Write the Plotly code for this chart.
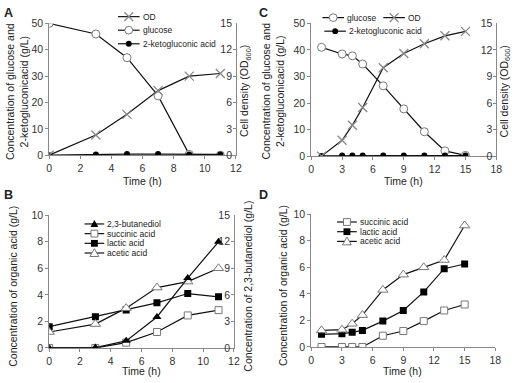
import plotly.graph_objects as go

W, H = 520, 383

# ---------------- data ----------------
# Panel A
tA = [0, 3, 5, 7, 9, 11]
A_od = [0, 2.3, 4.65, 7.35, 9.0, 9.3]
A_glucose = [50, 46, 37, 22.5, 0.3, 0]
A_kga = [0, 0.3, 0.4, 0.4, 0.3, 0.3]

# Panel B
tB = [0, 3, 5, 7, 9, 11]
B_bdo = [0, 0.05, 0.8, 3.5, 7.9, 12.0]
B_succinic = [0, 0, 0.4, 1.2, 2.45, 2.85]
B_lactic = [1.6, 2.35, 2.85, 3.4, 4.1, 3.85]
B_acetic = [1.2, 1.8, 3.0, 4.55, 5.0, 6.0]

# Panel C
tC = [1, 3, 4, 5, 7, 9, 11, 13, 15]
C_glucose = [41, 38.5, 37.8, 34.7, 26.5, 17.8, 9.2, 2.0, 0.3]
C_od = [0, 1.8, 3.5, 5.5, 10.0, 11.6, 12.7, 13.6, 14.1]
C_kga = [0.1, 0.2, 0.2, 0.2, 0.2, 0.2, 0.2, 0.2, 0.2]

# Panel D
tD = [1, 3, 4, 5, 7, 9, 11, 13, 15]
D_succinic = [0, 0, 0, 0, 0.85, 1.2, 1.95, 2.75, 3.2]
D_lactic = [0.95, 1.0, 1.1, 1.25, 1.95, 2.75, 4.15, 5.9, 6.25]
D_acetic = [1.25, 1.3, 1.75, 2.4, 4.3, 5.45, 6.0, 6.55, 9.15]

# ---------------- styles ----------------
FONT = "Liberation Sans, Arial, sans-serif"
TXT = "#222"
AX = "#888"
LINE = dict(color="#111", width=1.2)
OPEN_EDGE = "#777"
TS = 10.5   # axis title size
KS = 10.5   # tick label size
LS = 8.5    # legend text size

STY = {
    "od": dict(symbol="x-thin", size=9, color="#888", line=dict(color="#888", width=1.3)),
    "glucose": dict(symbol="circle", size=8, color="white", line=dict(color=OPEN_EDGE, width=1)),
    "kga": dict(symbol="circle", size=6, color="black", line=dict(color="black", width=0)),
    "bdo": dict(symbol="triangle-up", size=8, color="black", line=dict(color="black", width=0)),
    "succinic": dict(symbol="square", size=7, color="white", line=dict(color=OPEN_EDGE, width=1)),
    "lactic": dict(symbol="square", size=7, color="black", line=dict(color="black", width=0)),
    "acetic": dict(symbol="triangle-up", size=9, color="white", line=dict(color=OPEN_EDGE, width=1)),
}

fig = go.Figure()


def add(x, y, key, xa, ya, name):
    fig.add_trace(go.Scatter(x=x, y=y, mode="lines+markers", name=name,
                             line=LINE, marker=STY[key], xaxis=xa, yaxis=ya,
                             showlegend=False))


# A
add(tA, A_glucose, "glucose", "x", "y", "glucose")
add(tA, A_kga, "kga", "x", "y", "2-ketogluconic acid")
add(tA, A_od, "od", "x", "y2", "OD")
# C
add(tC, C_glucose, "glucose", "x2", "y3", "glucose")
add(tC, C_kga, "kga", "x2", "y3", "2-ketogluconic acid")
add(tC, C_od, "od", "x2", "y4", "OD")
# B
add(tB, B_succinic, "succinic", "x3", "y5", "succinic acid")
add(tB, B_lactic, "lactic", "x3", "y5", "lactic acid")
add(tB, B_acetic, "acetic", "x3", "y5", "acetic acid")
add(tB, B_bdo, "bdo", "x3", "y6", "2,3-butanediol")
# D
add(tD, D_succinic, "succinic", "x4", "y7", "succinic acid")
add(tD, D_lactic, "lactic", "x4", "y7", "lactic acid")
add(tD, D_acetic, "acetic", "x4", "y7", "acetic acid")


def px(x):
    return x / W


def py(y):
    return 1 - y / H


tickfont = dict(family=FONT, size=KS, color="#333")


def xax(dom, rng, dt, anchor):
    return dict(domain=[px(dom[0]), px(dom[1])], range=rng, dtick=dt, anchor=anchor,
                showline=True, linecolor=AX, linewidth=1, ticks="outside", ticklen=3,
                tickcolor=AX, showgrid=False, zeroline=False, tickfont=tickfont)


def yax(dom, rng, dt, anchor):
    return dict(domain=[py(dom[1]), py(dom[0])], range=rng, dtick=dt, anchor=anchor,
                showline=True, linecolor=AX, linewidth=1, ticks="outside", ticklen=3,
                tickcolor=AX, showgrid=False, zeroline=False, tickfont=tickfont)


def yright(over, rng, dt, anchor):
    return dict(overlaying=over, side="right", range=rng, dtick=dt, anchor=anchor,
                showline=True, linecolor=AX, linewidth=1, ticks="inside", ticklen=3,
                tickcolor=AX, ticklabelposition="inside", ticklabeloverflow="allow",
                showgrid=False, zeroline=False, tickfont=tickfont)


layout = dict(
    width=W, height=H, margin=dict(l=0, r=0, t=0, b=0),
    paper_bgcolor="white", plot_bgcolor="white", showlegend=False,
    font=dict(family=FONT, color=TXT),
    xaxis=xax((47, 237), [0, 12], 2, "y"),
    yaxis=yax((18, 154), [0, 50], 10, "x"),
    yaxis2=yright("y", [0, 15], 3, "x"),
    xaxis2=xax((313.7, 502), [0, 18], 3, "y3"),
    yaxis3=yax((18, 155), [0, 50], 10, "x2"),
    yaxis4=yright("y3", [0, 15], 3, "x2"),
    xaxis3=xax((47, 235), [0, 12], 2, "y5"),
    yaxis5=yax((216, 353), [0, 10], 2, "x3"),
    yaxis6=yright("y5", [0, 15], 3, "x3"),
    xaxis4=xax((313.7, 501), [0, 18], 3, "y7"),
    yaxis7=yax((215, 352), [0, 10], 2, "x4"),
)
fig.update_layout(**layout)

ann = []
shapes = []


def text(x, y, s, size=TS, angle=0, xanchor="center", bold=False):
    if bold:
        s = "<b>" + s + "</b>"
    ann.append(dict(x=px(x), y=py(y), xref="paper", yref="paper", text=s,
                    showarrow=False, textangle=angle, xanchor=xanchor, yanchor="middle",
                    font=dict(family=FONT, size=size, color=TXT)))


# panel letters
for lab, x, y in [("A", 6, 7), ("B", 6, 195), ("C", 265, 7), ("D", 265, 195)]:
    text(x, y, lab, size=12.5, bold=True)

# axis titles
text(142, 181, "Time (h)")
text(408, 181, "Time (h)")
text(141, 376.5, "Time (h)")
text(407, 376.5, "Time (h)")
text(15, 88, "Concentration of glucose and<br>2-ketogluconicacid (g/L)", angle=-90)
text(275, 88, "Concentration of glucose and<br>2-ketogluconicacid (g/L)", angle=-90)
text(247, 88, "Cell density (OD<sub>600</sub>)", angle=-90)
text(511, 88, "Cell density (OD<sub>600</sub>)", angle=-90)
text(10, 289, "Concentration of organic acid (g/L)", angle=-90)
text(249, 289, "Concentration of 2,3-butanediol (g/L)", angle=-90)
text(285, 289, "Concentration of organic acid (g/L)", angle=-90)


def marker_shape(cx, cy, key):
    st = STY[key]
    sym = st["symbol"]
    fill = st["color"]
    edge = st["line"]["color"]
    s = st["size"] / 2.0
    lw = st["line"]["width"]
    if sym == "circle":
        shapes.append(dict(type="circle", xref="paper", yref="paper",
                           x0=px(cx - s), x1=px(cx + s), y0=py(cy + s), y1=py(cy - s),
                           fillcolor=fill, line=dict(color=edge, width=lw)))
    elif sym == "square":
        shapes.append(dict(type="rect", xref="paper", yref="paper",
                           x0=px(cx - s), x1=px(cx + s), y0=py(cy + s), y1=py(cy - s),
                           fillcolor=fill, line=dict(color=edge, width=lw)))
    elif sym == "triangle-up":
        path = "M {} {} L {} {} L {} {} Z".format(px(cx), py(cy - s), px(cx - s), py(cy + s * 0.8),
                                                   px(cx + s), py(cy + s * 0.8))
        shapes.append(dict(type="path", xref="paper", yref="paper", path=path,
                           fillcolor=fill, line=dict(color=edge, width=lw)))
    else:  # x
        path = "M {} {} L {} {} M {} {} L {} {}".format(px(cx - s), py(cy - s), px(cx + s), py(cy + s),
                                                       px(cx - s), py(cy + s), px(cx + s), py(cy - s))
        shapes.append(dict(type="path", xref="paper", yref="paper", path=path,
                           line=dict(color=edge, width=1.2)))


def legend_entry(x0, y, key, label, size=LS, length=22):
    shapes.append(dict(type="line", xref="paper", yref="paper", x0=px(x0), x1=px(x0 + length),
                       y0=py(y), y1=py(y), line=dict(color="#111", width=1.2)))
    marker_shape(x0 + length / 2, y, key)
    text(x0 + length + 1, y, label, size, xanchor="left")


# legend A
legend_entry(117, 11, "od", "OD")
legend_entry(117, 25, "glucose", "glucose")
legend_entry(117, 39, "kga", "2-ketogluconic acid")
# legend C
legend_entry(325, 12, "glucose", "glucose")
legend_entry(387, 12, "od", "OD")
legend_entry(327, 26, "kga", "2-ketogluconic acid")
# legend B
legend_entry(83, 225, "bdo", "2,3-butanediol", LS, 20)
legend_entry(83, 235, "succinic", "succinic acid", LS, 20)
legend_entry(83, 245, "lactic", "lactic acid", LS, 20)
legend_entry(83, 255, "acetic", "acetic acid", LS, 20)
# legend D
legend_entry(340, 223, "succinic", "succinic acid", LS, 20)
legend_entry(340, 233, "lactic", "lactic acid", LS, 20)
legend_entry(340, 243, "acetic", "acetic acid", LS, 20)

fig.update_layout(annotations=ann, shapes=shapes)

fig.write_html("out.html", config={"displayModeBar": False},
               post_script="document.body.style.margin='0';document.body.style.padding='0';")
